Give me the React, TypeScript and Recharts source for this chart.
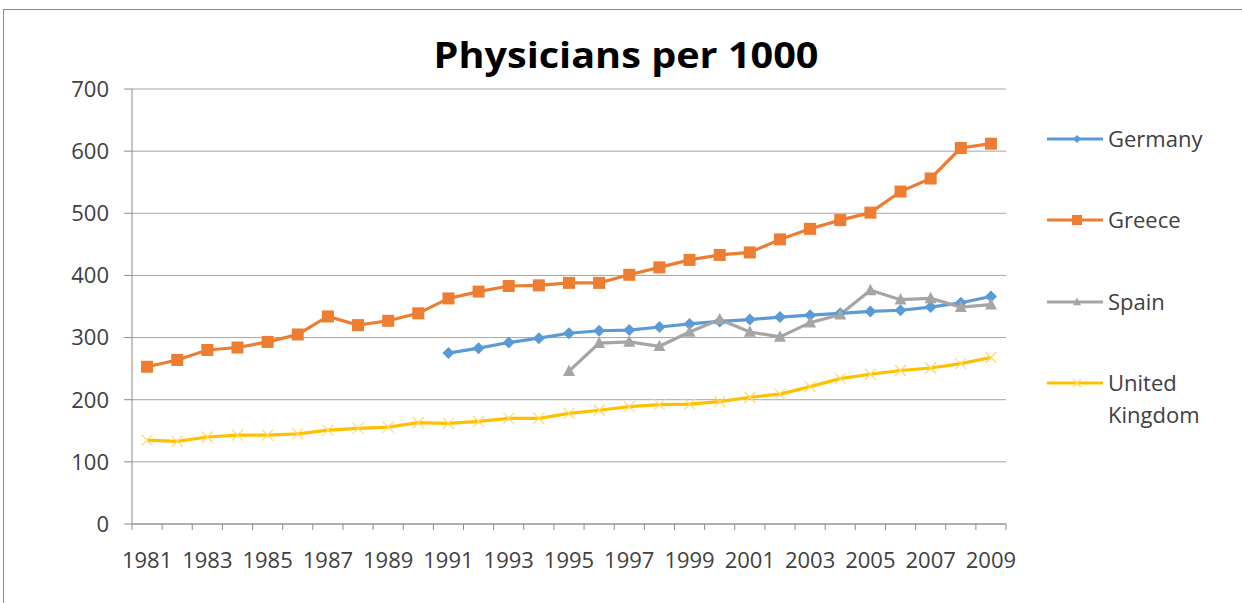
import React from "react";
import { LineChart, Line, XAxis, YAxis, CartesianGrid } from "recharts";

const years = [
  1981, 1982, 1983, 1984, 1985, 1986, 1987, 1988, 1989, 1990, 1991, 1992, 1993, 1994, 1995,
  1996, 1997, 1998, 1999, 2000, 2001, 2002, 2003, 2004, 2005, 2006, 2007, 2008, 2009,
];

const germany = [
  null, null, null, null, null, null, null, null, null, null, 275, 283, 292, 299, 307,
  311, 312, 317, 322, 326, 329, 333, 336, 339, 342, 344, 349, 356, 366,
];

const greece = [
  253, 264, 280, 284, 293, 305, 334, 320, 327, 339, 363, 374, 383, 384, 388,
  388, 401, 413, 425, 433, 437, 458, 475, 489, 501, 535, 556, 605, 612,
];

const spain = [
  null, null, null, null, null, null, null, null, null, null, null, null, null, null, 246,
  291, 293, 286, 309, 329, 309, 301, 324, 337, 376, 361, 363, 349, 353,
];

const uk = [
  135, 133, 140, 143, 143, 145, 151, 154, 156, 163, 162, 165, 170, 170, 178,
  183, 189, 192, 193, 197, 204, 209, 221, 234, 241, 247, 251, 258, 268,
];

const yTicks = [0, 100, 200, 300, 400, 500, 600, 700];
const labelledYears = [1981, 1983, 1985, 1987, 1989, 1991, 1993, 1995, 1997, 1999, 2001, 2003, 2005, 2007, 2009];

type Shape = "diamond" | "square" | "triangle" | "cross";

const series: { key: string; name: string[]; color: string; shape: Shape }[] = [
  { key: "germany", name: ["Germany"], color: "#5B9BD5", shape: "diamond" },
  { key: "greece", name: ["Greece"], color: "#ED7D31", shape: "square" },
  { key: "spain", name: ["Spain"], color: "#A5A5A5", shape: "triangle" },
  { key: "uk", name: ["United", "Kingdom"], color: "#FFC000", shape: "cross" },
];

const rows = years.map((year, i) => ({
  year,
  germany: germany[i],
  greece: greece[i],
  spain: spain[i],
  uk: uk[i],
}));

// tick lines sit between categories, labels on every other year
const boundaries = [...years.map((y) => y - 0.5), years[years.length - 1] + 0.5];
const xTicks = [...boundaries, ...labelledYears].sort((a, b) => a - b);

const FONT = "'Open Sans', 'DejaVu Sans', sans-serif";
const AXIS = "#8c8c8c";
const TEXT = "#404040";

function marker(shape: Shape, cx: number, cy: number, color: string, s: number, key?: string | number) {
  switch (shape) {
    case "diamond":
      return (
        <polygon
          key={key}
          points={`${cx},${cy - s} ${cx + s},${cy} ${cx},${cy + s} ${cx - s},${cy}`}
          fill={color}
        />
      );
    case "square":
      return <rect key={key} x={cx - s} y={cy - s} width={s * 2} height={s * 2} fill={color} />;
    case "triangle":
      return (
        <polygon
          key={key}
          points={`${cx},${cy - s * 1.1} ${cx + s},${cy + s * 0.8} ${cx - s},${cy + s * 0.8}`}
          fill={color}
        />
      );
    default:
      return (
        <g key={key} stroke="#ffd966" strokeWidth={1.2}>
          <line x1={cx - s} y1={cy - s} x2={cx + s} y2={cy + s} />
          <line x1={cx - s} y1={cy + s} x2={cx + s} y2={cy - s} />
        </g>
      );
  }
}

const makeDot = (shape: Shape, color: string, size: number) => (props: any) => {
  const { cx, cy, index, value } = props;
  if (cx == null || cy == null || value == null) return <g key={`e-${index}`} />;
  return marker(shape, cx, cy, color, size, `d-${index}`);
};

function YearTick(props: any) {
  const { x, y, payload } = props;
  const v = payload.value as number;
  if (!Number.isInteger(v)) {
    return <line x1={x} x2={x} y1={y} y2={y + 6} stroke={AXIS} strokeWidth={1} />;
  }
  return (
    <text x={x} y={y + 44} textAnchor="middle" fill={TEXT} fontSize={22} fontFamily={FONT}>
      {v}
    </text>
  );
}

export default function App() {
  return (
    <div style={{ position: "absolute", left: 0, top: 0, width: 1242, height: 603, background: "#fff", overflow: "hidden" }}>
      {/* chart area frame */}
      <div
        style={{
          position: "absolute",
          left: 3,
          top: 9,
          width: 1300,
          height: 700,
          borderLeft: `1px solid ${AXIS}`,
          borderTop: `1px solid ${AXIS}`,
        }}
      />
      <LineChart
        width={1242}
        height={603}
        data={rows}
        margin={{ top: 89, right: 236, bottom: 49, left: 72 }}
        style={{ position: "absolute", left: 0, top: 0 }}
      >
        <CartesianGrid vertical={false} stroke="#a6a6a6" strokeWidth={1} />
        <XAxis
          type="number"
          dataKey="year"
          domain={[1980.5, 2009.5]}
          ticks={xTicks}
          interval={0}
          allowDecimals
          tickLine={false}
          tickSize={0}
          tickMargin={0}
          axisLine={{ stroke: AXIS, strokeWidth: 1 }}
          tick={<YearTick />}
          height={30}
        />
        <YAxis
          domain={[0, 700]}
          ticks={yTicks}
          interval={0}
          width={60}
          tickSize={8}
          tickMargin={15}
          axisLine={{ stroke: AXIS, strokeWidth: 1 }}
          tickLine={{ stroke: AXIS, strokeWidth: 1 }}
          tick={{ fill: TEXT, fontSize: 22, fontFamily: FONT }}
        />
        {series.map((s) => (
          <Line
            key={s.key}
            type="linear"
            dataKey={s.key}
            stroke={s.color}
            strokeWidth={3.2}
            connectNulls={false}
            dot={makeDot(s.shape, s.color, s.shape === "cross" ? 5.5 : 6)}
            activeDot={false}
            isAnimationActive={false}
          />
        ))}
      </LineChart>
      <svg width={1242} height={603} style={{ position: "absolute", left: 0, top: 0, pointerEvents: "none" }}>
        <text
          x={626}
          y={68}
          textAnchor="middle"
          fontSize={35}
          fontWeight="bold"
          fontFamily={FONT}
          fill="#000"
          textLength={385}
          lengthAdjust="spacingAndGlyphs"
        >
          Physicians per 1000
        </text>
        {series.map((s, i) => {
          const y = [139, 220, 302, 383][i];
          return (
            <g key={s.key}>
              <line x1={1047} x2={1103} y1={y} y2={y} stroke={s.color} strokeWidth={3} />
              {marker(s.shape, 1077, y, s.color, s.shape === "square" ? 5 : 4)}
              {s.name.map((line, j) => (
                <text key={line} x={1108} y={y + 8 + j * 32} fontSize={22} fontFamily={FONT} fill={TEXT}>
                  {line}
                </text>
              ))}
            </g>
          );
        })}
      </svg>
    </div>
  );
}
